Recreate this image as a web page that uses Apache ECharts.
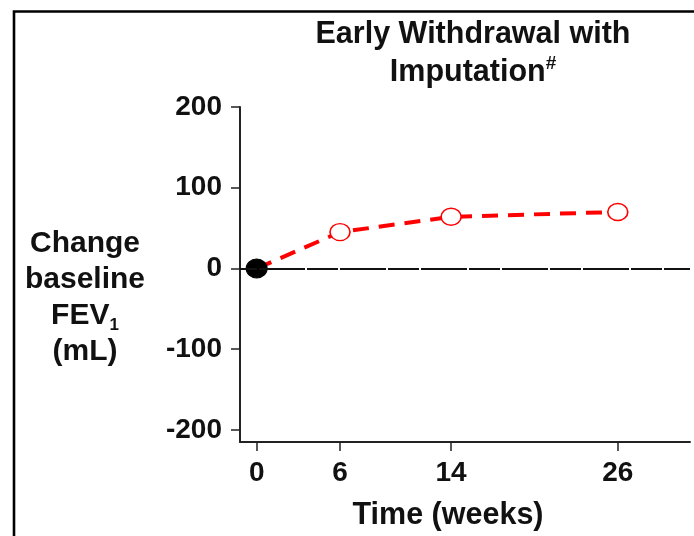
<!DOCTYPE html>
<html>
<head>
<meta charset="utf-8">
<script src="https://cdn.jsdelivr.net/npm/echarts@6/dist/echarts.min.js"></script>
<style>
html,body{margin:0;padding:0;background:#fff;}
#chart{width:694px;height:536px;}
</style>
</head>
<body>
<div id="chart"></div>
<script>
// Data
var weeks = [0, 6, 14, 26];
var changeFEV1 = [0, 45, 64, 70];
var xTickValues = [0, 6, 14, 26];
var yTickValues = [-200, -100, 0, 100, 200];
var titleLines = ['Early Withdrawal with', 'Imputation'];
var yAxisTitle = ['Change', 'baseline', 'FEV', '(mL)'];
var xAxisTitle = 'Time (weeks)';

var FONT = "'Liberation Sans', Arial, sans-serif";
var TXT = '#111';

var seriesData = weeks.map(function (w, i) {
  var item = { value: [w, changeFEV1[i]] };
  if (i === 0) {
    item.itemStyle = { color: '#000', borderColor: '#000', borderWidth: 1 };
    item.symbolSize = [21, 19];
  }
  return item;
});

var chart = echarts.init(document.getElementById('chart'), null, { renderer: 'canvas' });
chart.setOption({
  backgroundColor: '#fff',
  animation: false,
  title: {
    text: titleLines[0] + '\n' + titleLines[1] + '{sup|#}',
    left: 468,
    top: 11,
    textAlign: 'center',
    textStyle: {
      fontFamily: FONT,
      fontSize: 30.5,
      fontWeight: 'bold',
      color: TXT,
      lineHeight: 38,
      rich: {
        sup: { fontFamily: FONT, fontSize: 19, fontWeight: 'bold', color: TXT, verticalAlign: 'top', lineHeight: 26 }
      }
    }
  },
  graphic: [{
    type: 'rect',
    silent: true,
    shape: { x: 14, y: 11.5, width: 720, height: 600 },
    style: { fill: null, stroke: '#000', lineWidth: 2.6 },
    z: 0
  }],
  grid: { left: 240, right: 4, top: 107, bottom: 92, containLabel: false },
  xAxis: {
    type: 'value',
    min: -1.2,
    max: 31.2,
    name: xAxisTitle,
    nameLocation: 'middle',
    nameGap: 58,
    nameTextStyle: { fontFamily: FONT, fontSize: 30.5, fontWeight: 'bold', color: TXT, padding: [0, 34, 0, 0] },
    axisLine: { onZero: false, lineStyle: { color: '#222', width: 2 } },
    axisTick: { customValues: xTickValues, length: 9, lineStyle: { color: '#222', width: 1.5 } },
    axisLabel: { customValues: xTickValues, fontFamily: FONT, fontSize: 28, fontWeight: 'bold', color: TXT, margin: 17 },
    splitLine: { show: false }
  },
  yAxis: {
    type: 'value',
    min: -215,
    max: 200,
    name: yAxisTitle[0] + '\n' + yAxisTitle[1] + '\n' + yAxisTitle[2] + '{sub|1}\n' + yAxisTitle[3],
    nameLocation: 'middle',
    nameRotate: 0,
    nameGap: 155,
    nameTextStyle: {
      fontFamily: FONT, fontSize: 30, fontWeight: 'bold', color: TXT, lineHeight: 36, align: 'center',
      padding: [46, 0, 0, 0],
      rich: {
        sub: { fontFamily: FONT, fontSize: 17, fontWeight: 'bold', color: TXT, verticalAlign: 'bottom', lineHeight: 22 }
      }
    },
    axisLine: { onZero: false, lineStyle: { color: '#222', width: 2 } },
    axisTick: { customValues: yTickValues, length: 9, lineStyle: { color: '#222', width: 1.5 } },
    axisLabel: { customValues: yTickValues, fontFamily: FONT, fontSize: 28, fontWeight: 'bold', color: TXT, margin: 18 },
    splitLine: { show: false }
  },
  series: [
    {
      type: 'line',
      data: [],
      z: 1,
      markLine: {
        silent: true,
        symbol: 'none',
        label: { show: false },
        lineStyle: { color: '#111', width: 2, type: [31, 2, 46, 2], dashOffset: 14 },
        data: [{ yAxis: 0 }]
      }
    },
    {
      type: 'line',
      z: 3,
      data: seriesData,
      symbol: 'circle',
      symbolSize: [20, 17],
      showAllSymbol: true,
      lineStyle: { color: '#ff0000', width: 4, type: [16, 10] },
      itemStyle: { color: '#fff', borderColor: '#ff0000', borderWidth: 1.5 }
    }
  ]
});
</script>
</body>
</html>
